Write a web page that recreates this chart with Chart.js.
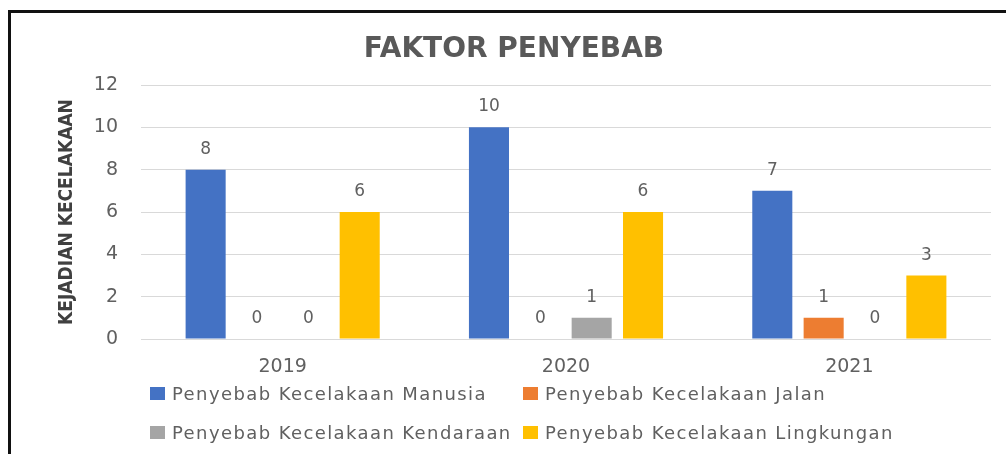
<!DOCTYPE html>
<html>
<head>
<meta charset="utf-8">
<script src="https://cdn.jsdelivr.net/npm/chart.js@4.4.1/dist/chart.umd.min.js"></script>
<style>
  html, body { margin: 0; padding: 0; background: #fff; overflow: hidden; }
  #wrap { position: relative; width: 1006px; height: 454px; }
  #frame { position: absolute; left: 8px; top: 10px; width: 1100px; height: 600px; border: 3px solid #111; box-sizing: border-box; pointer-events: none; }
  #legend { position: absolute; left: 0; top: 0; width: 1006px; height: 454px; pointer-events: none;
    font-family: "DejaVu Sans", sans-serif; font-size: 18px; letter-spacing: 1.4px; color: #606060; }
  .item { position: absolute; display: flex; align-items: center; white-space: nowrap; height: 20px; }
  .box { width: 15px; height: 13px; margin-right: 7px; }
</style>
</head>
<body>
<div id="wrap">
  <canvas id="barChart"></canvas>
  <div id="frame"></div>
  <div id="legend"></div>
</div>
<script>
const titleText = 'FAKTOR PENYEBAB';
const yTitle = 'KEJADIAN KECELAKAAN';
const years = ['2019', '2020', '2021'];
const seriesNames = ['Penyebab Kecelakaan Manusia', 'Penyebab Kecelakaan Jalan', 'Penyebab Kecelakaan Kendaraan', 'Penyebab Kecelakaan Lingkungan'];
const manusia = [8, 10, 7];
const jalan = [0, 0, 1];
const kendaraan = [0, 1, 0];
const lingkungan = [6, 6, 3];
const colors = ['#4472C4', '#ED7D31', '#A5A5A5', '#FFC000'];

// value labels above each bar
const valueLabels = {
  id: 'valueLabels',
  afterDatasetsDraw(chart) {
    const ctx = chart.ctx;
    ctx.save();
    ctx.font = '17px "DejaVu Sans", sans-serif';
    ctx.fillStyle = '#606060';
    ctx.textAlign = 'center';
    ctx.textBaseline = 'alphabetic';
    chart.data.datasets.forEach((ds, i) => {
      chart.getDatasetMeta(i).data.forEach((bar, j) => {
        ctx.fillText(String(ds.data[j]), bar.x, bar.y - 16);
      });
    });
    ctx.restore();
  }
};

const chartTitle = {
  id: 'chartTitle',
  afterDraw(chart) {
    const ctx = chart.ctx;
    ctx.save();
    ctx.font = 'bold 28px "DejaVu Sans", sans-serif';
    ctx.fillStyle = '#595959';
    ctx.textAlign = 'center';
    ctx.textBaseline = 'middle';
    ctx.fillText(titleText, 514, 50);
    ctx.restore();
  }
};

const ctx = document.getElementById('barChart').getContext('2d');
const barChart = new Chart(ctx, {
  type: 'bar',
  data: {
    labels: years,
    datasets: [
      { label: seriesNames[0], data: manusia, backgroundColor: colors[0] },
      { label: seriesNames[1], data: jalan, backgroundColor: colors[1] },
      { label: seriesNames[2], data: kendaraan, backgroundColor: colors[2] },
      { label: seriesNames[3], data: lingkungan, backgroundColor: colors[3] }
    ]
  },
  options: {
    responsive: true,
    maintainAspectRatio: false,
    animation: false,
    categoryPercentage: 0.725,
    barPercentage: 0.78,
    layout: { padding: { left: 12, top: 85, right: 15, bottom: 75 } },
    plugins: {
      legend: { display: false },
      title: { display: false },
      tooltip: { enabled: false }
    },
    scales: {
      x: {
        grid: { display: false },
        border: { display: false },
        ticks: { color: '#606060', font: { family: 'DejaVu Sans', size: 19 }, padding: 9 },
        afterFit: s => { s.height = 40; }
      },
      y: {
        min: 0,
        max: 12,
        ticks: { stepSize: 2, color: '#606060', font: { family: 'DejaVu Sans', size: 19 }, padding: 23 },
        grid: { color: '#d9d9d9', lineWidth: 1, drawTicks: false },
        border: { display: false },
        title: {
          display: true,
          text: yTitle,
          color: '#404040',
          font: { family: '"Liberation Sans Narrow", "DejaVu Sans Condensed", "Arial Narrow", sans-serif', size: 19, weight: 'bold' },
          padding: { top: 44, bottom: 0 }
        },
        afterFit: s => { s.width = 129; }
      }
    }
  },
  plugins: [valueLabels, chartTitle]
});

// legend laid out in two columns like the original
const legendPos = [[150, 383], [523, 383], [150, 422], [523, 422]];
const legend = document.getElementById('legend');
barChart.data.datasets.forEach((ds, i) => {
  const el = document.createElement('div');
  el.className = 'item';
  el.style.left = legendPos[i][0] + 'px';
  el.style.top = legendPos[i][1] + 'px';
  el.innerHTML = `<span class="box" style="background:${ds.backgroundColor}"></span><span>${ds.label}</span>`;
  legend.appendChild(el);
});
</script>
</body>
</html>
